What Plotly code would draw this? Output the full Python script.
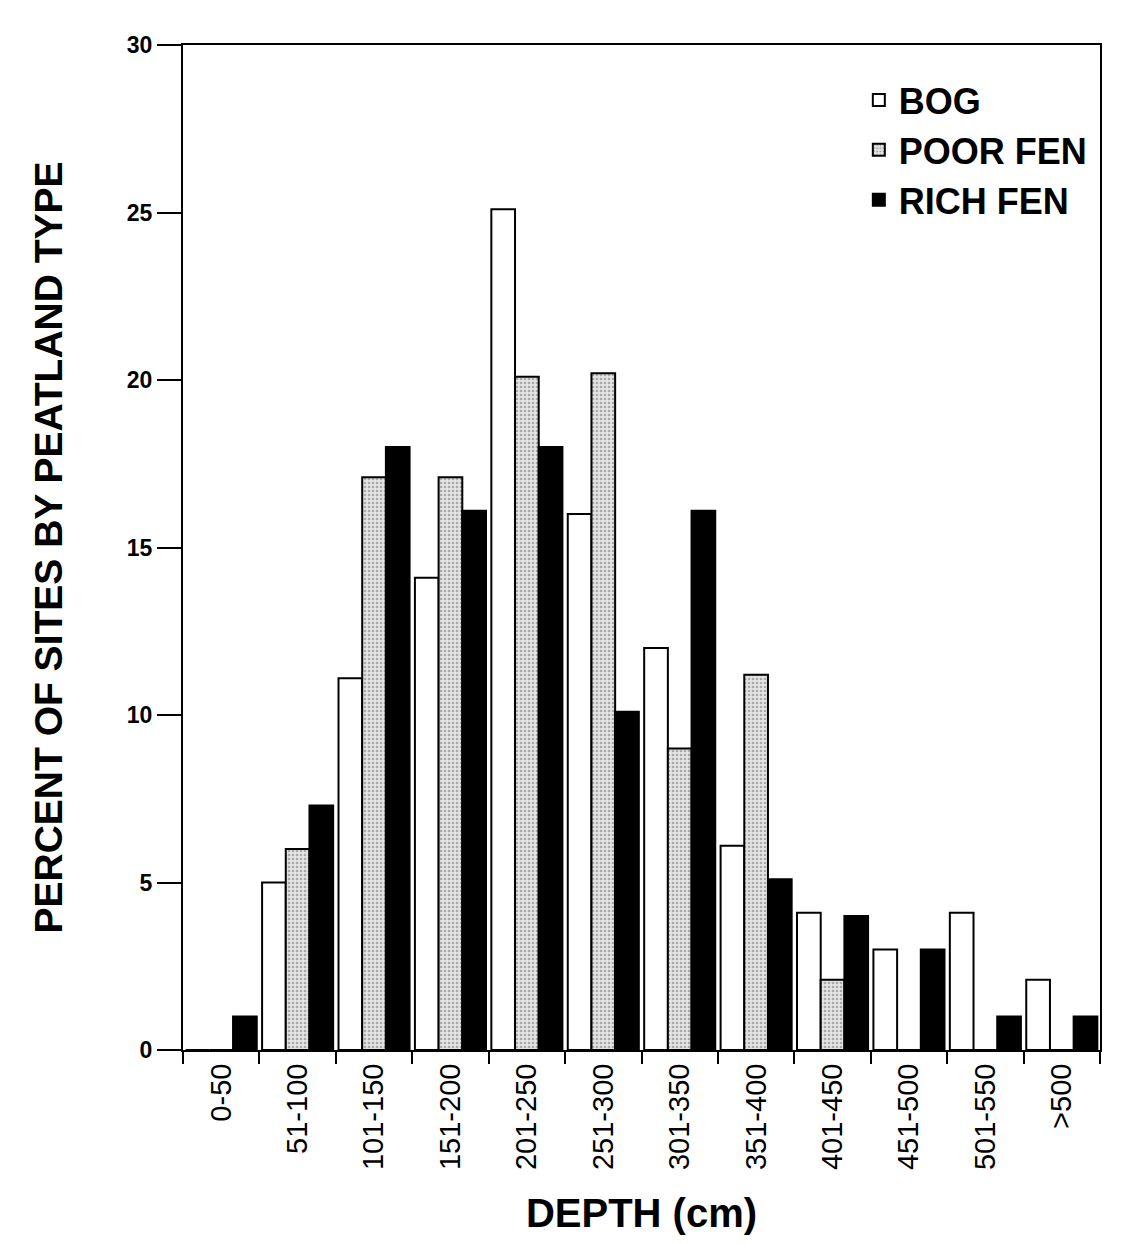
import plotly.graph_objects as go

categories = ["0-50", "51-100", "101-150", "151-200", "201-250", "251-300",
              "301-350", "351-400", "401-450", "451-500", "501-550", ">500"]
bog = [0, 5.0, 11.1, 14.1, 25.1, 16.0, 12.0, 6.1, 4.1, 3.0, 4.1, 2.1]
poor_fen = [0, 6.0, 17.1, 17.1, 20.1, 20.2, 9.0, 11.2, 2.1, 0, 0, 0]
rich_fen = [1.0, 7.3, 18.0, 16.1, 18.0, 10.1, 16.1, 5.1, 4.0, 3.0, 1.0, 1.0]
y_ticks = [0, 5, 10, 15, 20, 25, 30]

FONT = "Liberation Sans, Arial, Helvetica, sans-serif"

fig = go.Figure()
fig.add_trace(go.Bar(name="BOG", x=categories, y=bog,
                     marker=dict(color="white", line=dict(color="black", width=2))))
fig.add_trace(go.Bar(name="POOR FEN", x=categories, y=poor_fen,
                     marker=dict(color="#d0d0d0", line=dict(color="black", width=2),
                                 pattern=dict(shape=".", fgcolor="#6e6e6e",
                                              bgcolor="#e4e4e4", size=4, solidity=0.35))))
fig.add_trace(go.Bar(name="RICH FEN", x=categories, y=rich_fen,
                     marker=dict(color="black", line=dict(color="black", width=2))))

fig.update_layout(
    width=1142, height=1243,
    paper_bgcolor="white", plot_bgcolor="white",
    margin=dict(l=175, r=50, t=37, b=201, autoexpand=False),
    barmode="group", bargap=0.07, bargroupgap=0,
    font=dict(family=FONT, color="black"),
    showlegend=True,
    legend=dict(x=0.737, y=0.975, xanchor="left", yanchor="top",
                font=dict(size=36, family=FONT, weight="bold"),
                bgcolor="rgba(0,0,0,0)", itemsizing="constant",
                tracegroupgap=4),
)
fig.update_xaxes(
    type="category", tickson="boundaries", ticks="outside", ticklen=12,
    tickwidth=2, tickcolor="black", showline=True, linecolor="black",
    linewidth=2, mirror=True, tickangle=-90, showgrid=False,
    tickfont=dict(size=29, family=FONT),
    title=dict(text="DEPTH (cm)", font=dict(size=40, family=FONT, weight="bold"),
               standoff=30),
)
fig.update_yaxes(
    range=[0, 30], tickvals=y_ticks, ticks="outside", ticklen=24,
    tickwidth=2, tickcolor="black", showline=True, linecolor="black",
    linewidth=2, mirror=True, showgrid=False, zeroline=False,
    tickfont=dict(size=23, family=FONT, weight="bold"),
    title=dict(text="PERCENT OF SITES BY PEATLAND TYPE",
               font=dict(size=39, family=FONT, weight="bold"), standoff=52),
)

fig.write_html("out.html")
